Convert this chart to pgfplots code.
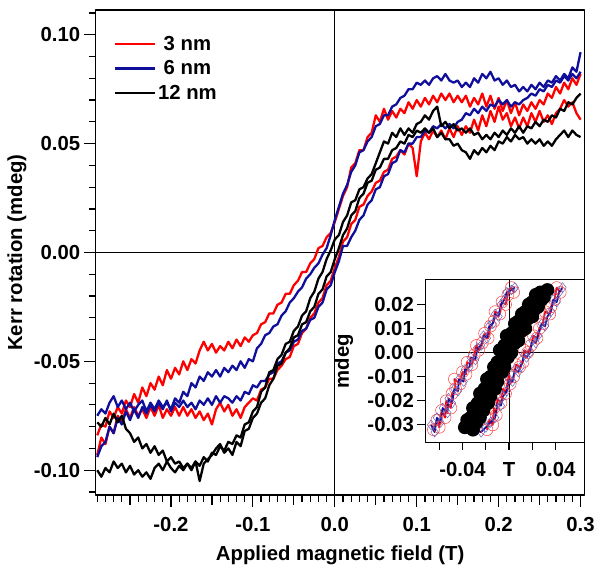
\documentclass[border=0pt]{standalone}
\usepackage{pgfplots}
\pgfplotsset{compat=1.18}
\usepackage{pgfplotstable}
\usepackage{fontspec}
\setmainfont{Liberation Sans}
\definecolor{kred}{RGB}{255,0,0}
\definecolor{kblue}{RGB}{15,15,155}

% hysteresis branches: up = field sweeping down, lo = field sweeping up
\pgfplotstableread{
x rup rlo bup blo kup klo
-0.290 -0.084 -0.093 -0.075 -0.094 -0.078 -0.100
-0.285 -0.079 -0.085 -0.072 -0.089 -0.080 -0.103
-0.280 -0.080 -0.088 -0.074 -0.087 -0.076 -0.099
-0.275 -0.073 -0.080 -0.069 -0.080 -0.079 -0.101
-0.270 -0.076 -0.083 -0.066 -0.083 -0.074 -0.096
-0.265 -0.071 -0.075 -0.071 -0.076 -0.078 -0.099
-0.260 -0.074 -0.078 -0.068 -0.079 -0.075 -0.097
-0.255 -0.068 -0.072 -0.072 -0.073 -0.081 -0.101
-0.250 -0.071 -0.076 -0.069 -0.077 -0.083 -0.098
-0.245 -0.065 -0.071 -0.073 -0.072 -0.087 -0.102
-0.240 -0.069 -0.075 -0.070 -0.076 -0.085 -0.100
-0.235 -0.062 -0.072 -0.068 -0.071 -0.090 -0.103
-0.230 -0.066 -0.076 -0.073 -0.074 -0.088 -0.101
-0.225 -0.060 -0.071 -0.069 -0.070 -0.092 -0.104
-0.220 -0.063 -0.075 -0.072 -0.073 -0.089 -0.099
-0.215 -0.057 -0.070 -0.068 -0.069 -0.093 -0.097
-0.210 -0.061 -0.076 -0.071 -0.072 -0.091 -0.100
-0.205 -0.054 -0.072 -0.069 -0.068 -0.096 -0.096
-0.200 -0.058 -0.075 -0.072 -0.073 -0.094 -0.099
-0.195 -0.053 -0.071 -0.067 -0.069 -0.097 -0.101
-0.190 -0.056 -0.075 -0.069 -0.071 -0.096 -0.098
-0.185 -0.050 -0.071 -0.064 -0.068 -0.099 -0.100
-0.180 -0.054 -0.075 -0.066 -0.071 -0.097 -0.097
-0.175 -0.049 -0.072 -0.060 -0.069 -0.100 -0.099
-0.170 -0.051 -0.076 -0.062 -0.072 -0.096 -0.096
-0.165 -0.045 -0.073 -0.057 -0.068 -0.098 -0.105
-0.160 -0.041 -0.077 -0.059 -0.070 -0.094 -0.097
-0.155 -0.045 -0.074 -0.055 -0.067 -0.096 -0.095
-0.150 -0.042 -0.079 -0.057 -0.070 -0.092 -0.093
-0.145 -0.046 -0.072 -0.054 -0.066 -0.093 -0.090
-0.140 -0.043 -0.069 -0.057 -0.069 -0.089 -0.088
-0.135 -0.045 -0.073 -0.053 -0.066 -0.091 -0.092
-0.130 -0.041 -0.070 -0.055 -0.067 -0.087 -0.090
-0.125 -0.044 -0.075 -0.052 -0.069 -0.088 -0.093
-0.120 -0.040 -0.072 -0.054 -0.066 -0.084 -0.087
-0.115 -0.043 -0.076 -0.050 -0.068 -0.085 -0.089
-0.110 -0.039 -0.071 -0.053 -0.064 -0.079 -0.082
-0.105 -0.041 -0.069 -0.049 -0.065 -0.078 -0.081
-0.100 -0.038 -0.067 -0.050 -0.061 -0.073 -0.076
-0.095 -0.037 -0.068 -0.044 -0.062 -0.071 -0.074
-0.090 -0.033 -0.063 -0.042 -0.059 -0.064 -0.069
-0.085 -0.032 -0.062 -0.038 -0.059 -0.062 -0.067
-0.080 -0.028 -0.058 -0.037 -0.056 -0.055 -0.061
-0.075 -0.028 -0.058 -0.034 -0.055 -0.054 -0.058
-0.070 -0.024 -0.054 -0.033 -0.051 -0.049 -0.052
-0.065 -0.023 -0.052 -0.029 -0.050 -0.047 -0.051
-0.060 -0.019 -0.049 -0.027 -0.046 -0.042 -0.046
-0.055 -0.019 -0.048 -0.023 -0.045 -0.041 -0.044
-0.050 -0.015 -0.043 -0.021 -0.041 -0.036 -0.039
-0.045 -0.013 -0.042 -0.018 -0.040 -0.034 -0.038
-0.040 -0.009 -0.037 -0.016 -0.036 -0.029 -0.033
-0.035 -0.009 -0.035 -0.012 -0.035 -0.027 -0.032
-0.030 -0.005 -0.030 -0.010 -0.031 -0.021 -0.027
-0.025 -0.003 -0.028 -0.007 -0.030 -0.018 -0.025
-0.020 0.002 -0.023 -0.005 -0.025 -0.012 -0.019
-0.015 0.003 -0.021 -0.001 -0.023 -0.009 -0.017
-0.010 0.007 -0.015 0.002 -0.017 -0.003 -0.011
-0.005 0.009 -0.013 0.008 -0.015 0.001 -0.009
0.000 0.014 -0.007 0.015 -0.009 0.006 -0.003
0.005 0.020 -0.002 0.021 -0.004 0.008 0.002
0.010 0.026 0.005 0.027 0.003 0.014 0.008
0.015 0.030 0.007 0.031 0.003 0.017 0.011
0.020 0.039 0.013 0.037 0.007 0.023 0.017
0.025 0.041 0.015 0.040 0.010 0.024 0.019
0.030 0.047 0.021 0.046 0.015 0.029 0.025
0.035 0.047 0.022 0.047 0.017 0.030 0.027
0.040 0.053 0.026 0.051 0.022 0.034 0.032
0.045 0.055 0.028 0.053 0.024 0.036 0.033
0.050 0.063 0.032 0.058 0.029 0.041 0.038
0.055 0.060 0.033 0.059 0.030 0.046 0.039
0.060 0.066 0.037 0.063 0.035 0.051 0.043
0.065 0.061 0.038 0.063 0.036 0.050 0.043
0.070 0.065 0.043 0.067 0.041 0.055 0.047
0.075 0.062 0.044 0.068 0.042 0.053 0.048
0.080 0.066 0.047 0.071 0.047 0.057 0.051
0.085 0.064 0.045 0.072 0.046 0.054 0.050
0.090 0.069 0.050 0.075 0.050 0.057 0.054
0.095 0.066 0.048 0.075 0.050 0.055 0.053
0.100 0.070 0.035 0.078 0.053 0.059 0.056
0.105 0.067 0.051 0.077 0.053 0.060 0.055
0.110 0.071 0.055 0.079 0.056 0.063 0.057
0.115 0.068 0.052 0.077 0.055 0.061 0.055
0.120 0.072 0.056 0.080 0.058 0.065 0.057
0.125 0.069 0.053 0.081 0.057 0.067 0.053
0.130 0.073 0.056 0.079 0.059 0.058 0.055
0.135 0.070 0.052 0.082 0.057 0.060 0.052
0.140 0.073 0.057 0.079 0.059 0.057 0.052
0.145 0.069 0.053 0.078 0.057 0.059 0.049
0.150 0.072 0.058 0.079 0.060 0.056 0.050
0.155 0.069 0.054 0.076 0.061 0.057 0.047
0.160 0.072 0.058 0.078 0.064 0.055 0.046
0.165 0.067 0.055 0.076 0.063 0.057 0.043
0.170 0.071 0.061 0.080 0.066 0.054 0.047
0.175 0.068 0.056 0.078 0.064 0.055 0.045
0.180 0.073 0.063 0.082 0.067 0.052 0.048
0.185 0.067 0.058 0.080 0.065 0.054 0.046
0.190 0.072 0.065 0.083 0.068 0.052 0.049
0.195 0.066 0.060 0.079 0.067 0.055 0.047
0.200 0.071 0.067 0.080 0.070 0.053 0.051
0.205 0.065 0.061 0.077 0.068 0.056 0.050
0.210 0.070 0.064 0.079 0.070 0.054 0.053
0.215 0.064 0.058 0.076 0.067 0.057 0.051
0.220 0.069 0.062 0.077 0.069 0.055 0.054
0.225 0.063 0.057 0.074 0.068 0.058 0.052
0.230 0.068 0.062 0.076 0.070 0.055 0.053
0.235 0.065 0.058 0.074 0.071 0.058 0.050
0.240 0.069 0.064 0.077 0.073 0.057 0.052
0.245 0.066 0.060 0.075 0.072 0.060 0.050
0.250 0.070 0.065 0.078 0.075 0.058 0.052
0.255 0.068 0.060 0.076 0.074 0.061 0.049
0.260 0.073 0.063 0.079 0.077 0.060 0.051
0.265 0.071 0.059 0.078 0.076 0.063 0.049
0.270 0.076 0.064 0.081 0.079 0.062 0.052
0.275 0.073 0.066 0.079 0.078 0.066 0.054
0.280 0.078 0.070 0.082 0.081 0.065 0.056
0.285 0.075 0.067 0.080 0.079 0.069 0.053
0.290 0.080 0.069 0.085 0.082 0.068 0.056
0.295 0.077 0.064 0.083 0.080 0.071 0.054
0.300 0.082 0.061 0.092 0.083 0.073 0.053
}\loops

\begin{document}
\begin{tikzpicture}
\pgfplotsset{
  kerr/.style={
    scale only axis, at={(0,0)}, anchor=south west,
    axis line style={line width=1.2pt},
    tick align=outside, xtick pos=bottom, ytick pos=left,
    every tick/.style={black, line width=1.2pt},
    tick label style={font=\fontsize{20.4}{23}\selectfont\bfseries,
      /pgf/number format/assume math mode=true},
    label style={font=\fontsize{20.4}{23}\selectfont\bfseries},
    scaled ticks=false,
    line join=round,
  },
}
\path (-96pt,-73pt) rectangle (502pt,497pt);
\begin{axis}[kerr,
  width=491pt, height=487pt,
  xmin=-0.292, xmax=0.305, ymin=-0.1114, ymax=0.1114,
  xtick={-0.2,-0.1,0,0.1,0.2,0.3},
  minor xtick={-0.29,-0.28,...,0.30},
  extra x ticks={-0.25,-0.15,-0.05,0.05,0.15,0.25},
  extra x tick labels={},
  extra x tick style={major tick length=10pt},
  ytick={-0.1,-0.05,0,0.05,0.1},
  minor ytick={-0.11,-0.10,...,0.11},
  major tick length=12pt, minor tick length=7pt,
  xticklabel shift=7pt,
  xticklabel style={/pgf/number format/fixed, /pgf/number format/fixed zerofill, /pgf/number format/precision=1},
  yticklabel style={/pgf/number format/fixed, /pgf/number format/fixed zerofill, /pgf/number format/precision=2},
  xlabel={Applied magnetic field (T)},
  ylabel={Kerr rotation (mdeg)},
  xlabel style={at={(axis description cs:0.5,0)}, anchor=center, yshift=-61pt},
  ylabel style={at={(axis description cs:0,0.5)}, anchor=center, yshift=79pt},
  legend style={at={(0.031,0.955)}, anchor=north west, draw=none, fill=none,
    font=\fontsize{20.4}{23}\selectfont\bfseries, row sep=5pt,
    cells={anchor=center}},
  legend image code/.code={\draw[#1] (0pt,0pt) -- (40pt,0pt);},
]
\addplot[black, line width=1pt, forget plot] coordinates {(0,-0.12) (0,0.12)};
\addplot[black, line width=1pt, forget plot] coordinates {(-0.3,0) (0.31,0)};
\addplot[kred, line width=2.3pt] table[x=x, y=rup] {\loops};
\addlegendentry{3 nm}
\addplot[kred, line width=2.3pt, forget plot] table[x=x, y=rlo] {\loops};
\addplot[kblue, line width=2.3pt] table[x=x, y=bup] {\loops};
\addlegendentry{6 nm}
\addplot[kblue, line width=2.3pt, forget plot] table[x=x, y=blo] {\loops};
\addplot[black, line width=2.3pt] table[x=x, y=kup] {\loops};
\addlegendentry{12 nm}
\addplot[black, line width=2.3pt, forget plot] table[x=x, y=klo] {\loops};
\end{axis}

\begin{axis}[kerr,
  at={(331pt,53pt)},
  width=160pt, height=163pt,
  axis background/.style={fill=white},
  xmin=-0.072, xmax=0.065, ymin=-0.0372, ymax=0.0302,
  xtick={-0.06,-0.04,-0.02,0,0.02,0.04},
  xticklabels={,-0.04,,T,,0.04},
  xticklabel shift=9pt,
  ytick={-0.03,-0.02,-0.01,0,0.01,0.02},
  yticklabel style={/pgf/number format/fixed, /pgf/number format/fixed zerofill, /pgf/number format/precision=2},
  major tick length=8pt,
  ylabel={mdeg},
  ylabel style={at={(axis description cs:0,0.5)}, anchor=center, yshift=82pt},
  red mk/.style={kred, line width=1.8pt, mark=o, mark size=6pt, mark options={line width=0.5pt, kred!75}},
  blue mk/.style={kblue, line width=1.8pt, mark=diamond, mark size=5pt, mark options={line width=0.5pt, kblue!65}},
  black mk/.style={black, line width=1.8pt, mark=*, mark size=6pt},
]
\addplot[black, line width=1pt] coordinates {(0,-0.04) (0,0.04)};
\addplot[black, line width=1pt] coordinates {(-0.08,0) (0.07,0)};
% 3 nm
\addplot[red mk] coordinates {
(-0.065,-0.032) (-0.062,-0.028) (-0.060,-0.031) (-0.058,-0.024) (-0.055,-0.027)
(-0.054,-0.020) (-0.050,-0.023) (-0.049,-0.017) (-0.046,-0.015) (-0.047,-0.011)
(-0.042,-0.013) (-0.040,-0.008) (-0.037,-0.009) (-0.036,-0.004) (-0.032,-0.005)
(-0.030,-0.001) (-0.028,0.003) (-0.026,0.001) (-0.023,0.004) (-0.021,0.008)
(-0.018,0.006) (-0.016,0.011) (-0.013,0.013) (-0.012,0.017) (-0.008,0.016)
(-0.006,0.021) (-0.003,0.020) (-0.001,0.024) (0.002,0.027) (0.004,0.025)
};
\addplot[red mk] coordinates {
(0.044,0.025) (0.041,0.027) (0.039,0.022) (0.036,0.019) (0.035,0.016)
(0.031,0.017) (0.029,0.012) (0.026,0.010) (0.024,0.006) (0.021,0.007)
(0.019,0.003) (0.016,0.000) (0.013,0.001) (0.012,-0.004) (0.009,-0.006)
(0.006,-0.005) (0.004,-0.010) (0.001,-0.013) (0.000,-0.009) (-0.003,-0.017)
(-0.005,-0.015) (-0.007,-0.021) (-0.010,-0.019) (-0.011,-0.026) (-0.013,-0.023)
(-0.014,-0.030) (-0.017,-0.028) (-0.019,-0.032)
};
% 6 nm
\addplot[blue mk] coordinates {
(-0.067,-0.030) (-0.064,-0.033) (-0.062,-0.027) (-0.059,-0.029) (-0.057,-0.023)
(-0.053,-0.025) (-0.052,-0.019) (-0.049,-0.021) (-0.047,-0.015) (-0.044,-0.016)
(-0.043,-0.011) (-0.039,-0.012) (-0.038,-0.007) (-0.034,-0.006) (-0.033,-0.002)
(-0.029,-0.003) (-0.027,0.002) (-0.024,0.003) (-0.022,0.007) (-0.019,0.006)
(-0.017,0.011) (-0.014,0.012) (-0.012,0.016) (-0.009,0.015) (-0.007,0.020)
(-0.004,0.022) (-0.002,0.025) (0.002,0.026) (0.005,0.027)
};
\addplot[blue mk] coordinates {
(0.046,0.027) (0.043,0.025) (0.041,0.021) (0.038,0.022) (0.036,0.017)
(0.033,0.015) (0.031,0.011) (0.028,0.012) (0.025,0.007) (0.023,0.004)
(0.020,0.005) (0.018,0.000) (0.015,-0.002) (0.013,-0.001) (0.010,-0.006)
(0.008,-0.008) (0.005,-0.007) (0.003,-0.012) (0.000,-0.011) (-0.002,-0.016)
(-0.005,-0.018) (-0.007,-0.022) (-0.010,-0.021) (-0.012,-0.027) (-0.016,-0.029)
(-0.020,-0.031) (-0.024,-0.033) (-0.029,-0.032)
};
% 12 nm
\addplot[black mk] coordinates {
(-0.038,-0.031) (-0.036,-0.028) (-0.033,-0.027) (-0.031,-0.023) (-0.027,-0.021)
(-0.025,-0.017) (-0.021,-0.015) (-0.019,-0.011) (-0.016,-0.010) (-0.013,-0.006)
(-0.010,-0.004) (-0.008,0.001) (-0.004,0.003) (-0.002,0.007) (0.002,0.008)
(0.005,0.012) (0.008,0.013) (0.011,0.016) (0.014,0.017) (0.017,0.020)
(0.020,0.021) (0.023,0.024) (0.027,0.025)
};
\addplot[black mk] coordinates {
(0.033,0.026) (0.030,0.023) (0.028,0.022) (0.025,0.019) (0.022,0.018)
(0.020,0.015) (0.016,0.014) (0.014,0.010) (0.011,0.009) (0.008,0.005)
(0.005,0.004) (0.002,0.000) (-0.001,-0.002) (-0.004,-0.006) (-0.006,-0.008)
(-0.010,-0.012) (-0.012,-0.015) (-0.016,-0.018) (-0.018,-0.021) (-0.022,-0.024)
(-0.025,-0.027) (-0.028,-0.029) (-0.031,-0.032)
};
\end{axis}
\end{tikzpicture}
\end{document}
